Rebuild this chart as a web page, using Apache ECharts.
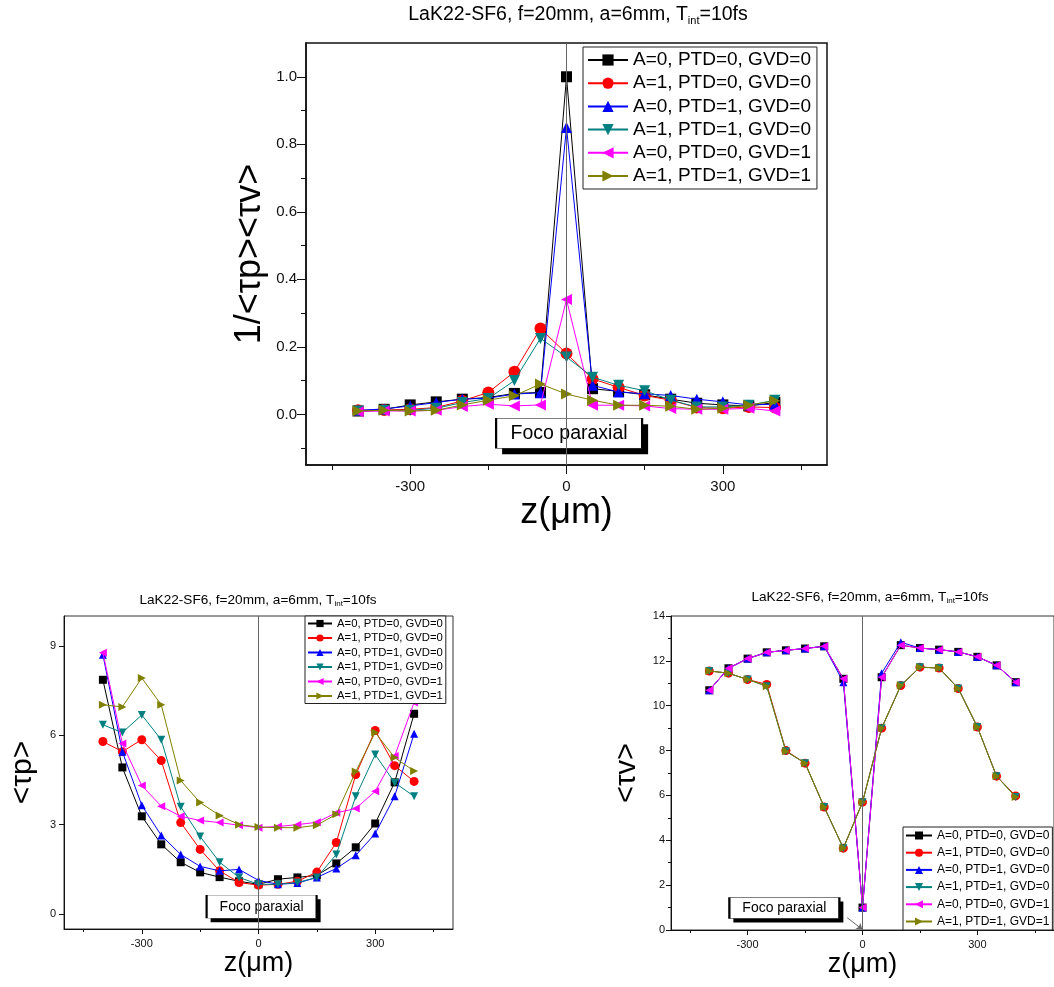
<!DOCTYPE html>
<html><head><meta charset="utf-8">
<script src="https://cdn.jsdelivr.net/npm/echarts@6/dist/echarts.min.js"></script>
<style>html,body{margin:0;padding:0;background:#fff}#c{width:1054px;height:987px}</style>
</head><body><div id="c"></div>
<script>
// ---------- data ----------
const zValues = [-400,-350,-300,-250,-200,-150,-100,-50,0,50,100,150,200,250,300,350,400];
const seriesNames = ['A=0, PTD=0, GVD=0','A=1, PTD=0, GVD=0','A=0, PTD=1, GVD=0','A=1, PTD=1, GVD=0','A=0, PTD=0, GVD=1','A=1, PTD=1, GVD=1'];
const seriesColors = ['#000000','#ff0000','#0000ff','#008080','#ff00ff','#808000'];
const titleMain = 'LaK22-SF6, f=20mm, a=6mm, T';
const titleSub = 'int';
const titleEnd = '=10fs';
const xTickLabels = [-300,0,300];
const xMinorTicks = [-450,-150,150,450];

// top: 1/<tau_p><tau_v>
const invBlack   = [0.010,0.015,0.028,0.037,0.045,0.050,0.062,0.065,1.000,0.076,0.068,0.058,0.045,0.033,0.028,0.025,0.035];
const invRed     = [0.012,0.013,0.015,0.020,0.040,0.065,0.126,0.254,0.180,0.105,0.080,0.056,0.042,0.020,0.018,0.022,0.020];
const invBlue    = [0.012,0.016,0.025,0.035,0.045,0.048,0.060,0.064,0.850,0.086,0.066,0.061,0.056,0.045,0.037,0.028,0.030];
const invTeal    = [0.010,0.012,0.012,0.018,0.035,0.047,0.100,0.225,0.170,0.110,0.086,0.070,0.042,0.022,0.022,0.027,0.042];
const invMagenta = [0.008,0.010,0.010,0.012,0.023,0.030,0.025,0.028,0.340,0.027,0.027,0.025,0.017,0.015,0.015,0.018,0.010];
const invOlive   = [0.010,0.012,0.010,0.012,0.028,0.042,0.055,0.090,0.060,0.042,0.027,0.027,0.024,0.015,0.018,0.027,0.040];
const invYLabels = [0,0.2,0.4,0.6,0.8,1.0];
const invYMinor  = [-0.1,0.1,0.3,0.5,0.7,0.9];

// bottom left: <tau_p>
const tpBlack   = [7.86,4.92,3.28,2.34,1.74,1.40,1.24,1.10,1.00,1.17,1.23,1.30,1.70,2.24,3.04,4.42,6.72];
const tpRed     = [5.79,5.45,5.85,5.15,3.07,2.17,1.45,1.06,0.97,1.00,1.10,1.41,2.40,4.68,6.16,4.98,4.45];
const tpBlue    = [8.70,5.45,3.65,2.64,2.00,1.60,1.45,1.50,1.13,1.00,1.04,1.23,1.53,1.97,2.70,3.95,6.05];
const tpTeal    = [6.35,6.09,6.68,5.85,3.60,2.60,1.74,1.23,1.00,1.00,1.06,1.23,2.00,3.95,5.35,4.41,3.95];
const tpMagenta = [8.77,5.72,4.31,3.62,3.28,3.14,3.07,2.98,2.90,2.94,3.00,3.08,3.40,3.54,4.12,5.30,7.10];
const tpOlive   = [7.02,6.95,7.92,7.02,4.48,3.74,3.31,3.00,2.92,2.90,2.90,2.98,3.35,4.78,6.09,5.25,4.80];
const tpYLabels = [0,3,6,9];

// bottom right: <tau_v>
const tvBlack   = [10.69,11.67,12.10,12.38,12.47,12.55,12.65,11.20,1.00,11.27,12.70,12.57,12.50,12.40,12.18,11.80,11.05];
const tvRed     = [11.55,11.45,11.17,10.95,8.00,7.44,5.48,3.65,5.70,9.00,10.90,11.72,11.68,10.77,9.05,6.86,5.98];
const tvBlue    = [10.69,11.67,12.10,12.38,12.47,12.55,12.65,11.05,1.00,11.45,12.83,12.57,12.50,12.40,12.18,11.80,11.05];
const tvTeal    = [11.55,11.45,11.17,10.87,7.97,7.44,5.48,3.65,5.70,9.00,10.90,11.72,11.68,10.77,9.05,6.86,5.93];
const tvMagenta = [10.69,11.67,12.10,12.38,12.47,12.55,12.65,11.20,1.00,11.27,12.70,12.57,12.50,12.40,12.18,11.80,11.05];
const tvOlive   = [11.55,11.45,11.17,10.87,7.97,7.44,5.48,3.65,5.70,9.00,10.90,11.72,11.68,10.77,9.05,6.86,5.93];
const tvYLabels = [0,2,4,6,8,10,12,14];
const tvYMinor  = [1,3,5,7,9,11,13];

// ---------- styling ----------
const FONT = 'Liberation Sans, Arial, sans-serif';
const symbols = ['rect','circle','triangle','path://M0,0L10,0L5,9Z','path://M0,5L9,0L9,10Z','path://M0,0L9,5L0,10Z'];

function pairs(arr){ return zValues.map((z,i)=>[z,arr[i]]); }

const grids = [
  {left:306, top:43, width:521, height:422, show:true, borderColor:'#111', borderWidth:1.5, backgroundColor:'transparent'},
  {left:64, top:616, width:389, height:313, show:true, borderColor:'#333', borderWidth:1, backgroundColor:'transparent'},
  {left:671, top:616, width:388, height:314, show:true, borderColor:'#333', borderWidth:1, backgroundColor:'transparent'}
];

function xAxes(g, fs, tickLen, labMargin, nameSize, nameGap){
  return [
    {type:'value', gridIndex:g, min:-500, max:500, name:'z(\u03bcm)', nameLocation:'middle', nameGap:nameGap,
     nameTextStyle:{fontSize:nameSize, color:'#000', fontFamily:FONT},
     axisLine:{onZero:false, lineStyle:{color:'#111', width:g===0?1.5:1}},
     axisTick:{customValues:xTickLabels, length:tickLen, lineStyle:{color:'#111'}},
     axisLabel:{customValues:xTickLabels, fontSize:fs, color:'#111', margin:labMargin, fontFamily:FONT},
     splitLine:{show:false}},
    {type:'value', gridIndex:g, min:-500, max:500, position:'bottom',
     axisLine:{show:false, onZero:false}, axisLabel:{show:false}, splitLine:{show:false},
     axisTick:{customValues:xMinorTicks, length:Math.round(tickLen*0.6), lineStyle:{color:'#111'}}}
  ];
}
function yAxes(g, min, max, labels, minor, fs, tickLen, labMargin, name, nameSize, nameGap, fmt){
  const a = [
    {type:'value', gridIndex:g, min:min, max:max, name:name, nameLocation:'middle', nameGap:nameGap,
     nameTextStyle:{fontSize:nameSize, color:'#000', fontFamily:FONT},
     axisLine:{show:true, onZero:false, lineStyle:{color:'#111', width:g===0?1.5:1}},
     axisTick:{show:true, customValues:labels, length:tickLen, lineStyle:{color:'#111'}},
     axisLabel:{customValues:labels, fontSize:fs, color:'#111', margin:labMargin, fontFamily:FONT, formatter:fmt},
     splitLine:{show:false}}
  ];
  if (minor) a.push({type:'value', gridIndex:g, min:min, max:max, position:'left',
     axisLine:{show:false, onZero:false}, axisLabel:{show:false}, splitLine:{show:false},
     axisTick:{show:true, customValues:minor, length:Math.round(tickLen*0.6), lineStyle:{color:'#111'}}});
  return a;
}

const xAxis = [].concat(xAxes(0,15,9,14,36,25), xAxes(1,11,5,9,27,18), xAxes(2,11,5,9,27,20));
const yAx0 = yAxes(0,-0.15,1.1,invYLabels,invYMinor,15,9,9,'1/<\u03c4p><\u03c4v>',36,38,v=>v.toFixed(1));
const yAx1 = yAxes(1,-0.5,10,tpYLabels,null,11,5,8,'<\u03c4p>',30,26,v=>String(v));
const yAx2 = yAxes(2,0,14,tvYLabels,tvYMinor,11,5,6,'<\u03c4v>',29,30,v=>String(v));
const yAxis = [].concat(yAx0, yAx1, yAx2);
const yIndex = [0, yAx0.length, yAx0.length + yAx1.length];
const xIndex = [0, 2, 4];

const sets = [
  [invBlack, invRed, invBlue, invTeal, invMagenta, invOlive],
  [tpBlack, tpRed, tpBlue, tpTeal, tpMagenta, tpOlive],
  [tvBlack, tvRed, tvBlue, tvTeal, tvMagenta, tvOlive]
];
const symSizes = [11, 8, 8];
const focoBoxes = [
  {coord:[5,-0.056], size:[146,30], fs:19.5, off:6},
  {coord:[8,0.25], size:[110,23], fs:14, off:4},
  {coord:[-204,0.98], size:[110,21], fs:14, off:4}
];

const series = [];
sets.forEach((set,g)=>{
  set.forEach((arr,i)=>{
    const s = {
      type:'line', name:seriesNames[i], xAxisIndex:xIndex[g], yAxisIndex:yIndex[g],
      data:pairs(arr), symbol:symbols[i], symbolSize: i===1 ? symSizes[g]+1 : symSizes[g],
      showAllSymbol:true, animation:false,
      lineStyle:{color:seriesColors[i], width:1}, itemStyle:{color:seriesColors[i]},
      z: 2 + i*0.01
    };
    if (i===0) {
      const fb = focoBoxes[g];
      s.markPoint = {silent:true, z:4, animation:false,
        data:[
          {coord:fb.coord, symbol:'rect', symbolSize:fb.size, symbolOffset:[fb.off,fb.off],
           itemStyle:{color:'#000', borderWidth:0}, label:{show:false}},
          {coord:fb.coord, symbol:'rect', symbolSize:fb.size,
           itemStyle:{color:'#fff', borderColor:'#000', borderWidth:1},
           label:{show:true, position:'inside', formatter:'Foco paraxial', color:'#000', fontSize:fb.fs, fontFamily:FONT}}
        ]};
    }
    if (i===5) {
      s.markLine = {silent:true, z:6, symbol:'none', animation:false, label:{show:false},
        lineStyle:{color:'#666', width:1, type:'solid'}, data:[{xAxis:0}]};
      if (g===2) {
        s.markLine.data = [{xAxis:0}, [{coord:[-40,0.55], symbol:'none'},{coord:[0,0.02], symbol:'arrow', symbolSize:6}]];
      }
    }
    series.push(s);
  });
});

function legend(left, top, iw, ih, fs, lh, gap, pad){
  return {left:left, top:top, orient:'vertical', data:seriesNames, selectedMode:false,
    itemWidth:iw, itemHeight:ih, itemGap:gap, padding:pad, borderColor:'#222', borderWidth:1,
    backgroundColor:'#fff', textStyle:{fontSize:fs, lineHeight:lh, color:'#000', fontFamily:FONT}};
}

function titleText(x, y, fs, fsSub){
  return {type:'text', x:x, y:y, z:10, style:{
    text:'{a|'+titleMain+'}{s|'+titleSub+'}{a|'+titleEnd+'}', align:'center', verticalAlign:'middle',
    rich:{a:{fontSize:fs, fontFamily:FONT, fill:'#000'}, s:{fontSize:fsSub, fontFamily:FONT, fill:'#000', verticalAlign:'bottom', padding:[Math.round(fs*0.55),0,0,0]}}
  }};
}

const chart = echarts.init(document.getElementById('c'), null, {renderer:'canvas'});
chart.setOption({
  backgroundColor:'#fff',
  animation:false,
  grid:grids,
  xAxis:xAxis,
  yAxis:yAxis,
  legend:[
    legend(583,47,40,14,19,20,3.2,[3,6,3,4]),
    legend(305,616,24,9,11.3,13,1.5,[1,3,1,2]),
    legend(903,827,26,10,12,15,2.2,[1,3,1,2])
  ],
  series:series,
  graphic:[titleText(578,15,19.5,11), titleText(258,600,13.6,8), titleText(870,597,13.6,8)]
});
</script></body></html>
